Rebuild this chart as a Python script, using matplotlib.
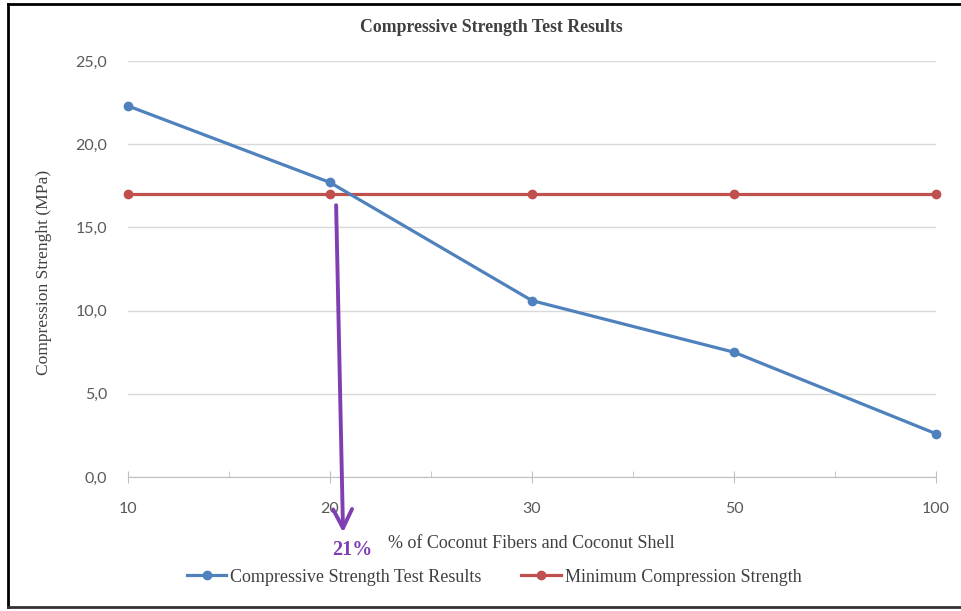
import matplotlib.pyplot as plt
from matplotlib.ticker import FuncFormatter, MultipleLocator
from matplotlib.lines import Line2D

# data
categories = ['10', '20', '30', '50', '100']
test_results = [22.3, 17.7, 10.6, 7.5, 2.6]
minimum_strength = [17.0, 17.0, 17.0, 17.0, 17.0]

blue = '#4f81bd'
red = '#c0504d'
purple = '#7f3fb2'
grey_txt = '#595959'
serif = 'Liberation Serif'

fig = plt.figure(figsize=(9.62, 6.11), dpi=100)
ax = fig.add_axes([128 / 962, 1 - 477 / 611, (936 - 128) / 962, (477 - 61) / 611])

x = list(range(len(categories)))
ax.plot(x, test_results, color=blue, lw=2.3, marker='o', ms=6,
        label='Compressive Strength Test Results', clip_on=False, zorder=4)
ax.plot(x, minimum_strength, color=red, lw=2.3, marker='o', ms=6,
        label='Minimum Compression Strength', clip_on=False, zorder=3)

ax.set_xlim(0, len(categories) - 1)
ax.set_ylim(0, 25)
ax.yaxis.set_major_locator(MultipleLocator(5))
ax.yaxis.set_major_formatter(FuncFormatter(lambda v, p: f'{v:.1f}'.replace('.', ',')))
ax.set_xticks(x)
ax.set_xticklabels(categories)
ax.set_xticks([i + 0.5 for i in x[:-1]], minor=True)

ax.grid(axis='y', color='#d9d9d9', lw=1)
ax.set_axisbelow(True)
for s in ['top', 'right', 'left']:
    ax.spines[s].set_visible(False)
ax.spines['bottom'].set_color('#bfbfbf')
ax.tick_params(axis='y', length=0, pad=15, labelsize=11.5, labelcolor=grey_txt)
ax.tick_params(axis='x', which='major', direction='inout', length=8, color='#bfbfbf',
               pad=14, labelsize=11.5, labelcolor=grey_txt)
ax.tick_params(axis='x', which='minor', direction='in', length=4, color='#bfbfbf')
for lab in ax.get_xticklabels() + ax.get_yticklabels():
    lab.set_family('Lato')

fig.text(491 / 962, 1 - 27 / 611, 'Compressive Strength Test Results', ha='center', va='center',
         family=serif, fontweight='bold', fontsize=12.8, color='#404040')
fig.text(44 / 962, 1 - 272 / 611, 'Compression Strenght (MPa)', rotation=90, ha='center',
         va='center', family=serif, fontsize=12.6, color='#404040')
fig.text(531 / 962, 1 - 543 / 611, '% of Coconut Fibers and Coconut Shell', ha='center',
         va='center', family=serif, fontsize=13, color='#404040')

# arrow marking 21%
ax.annotate('', xy=(1.065, -3.5), xytext=(1.03, 16.5),
            arrowprops=dict(arrowstyle='->', color=purple, lw=2.8, mutation_scale=34),
            annotation_clip=False, zorder=5)
ax.text(1.11, -4.4, '21%', ha='center', va='center', family=serif, fontweight='bold',
        fontsize=14.5, color=purple, clip_on=False)

handles = [Line2D([], [], color=blue, lw=2.3, marker='o', ms=6),
           Line2D([], [], color=red, lw=2.3, marker='o', ms=6)]
leg = fig.legend(handles, ['Compressive Strength Test Results', 'Minimum Compression Strength'],
                 loc='center', bbox_to_anchor=(494 / 962, 1 - 577 / 611), ncol=2, frameon=False,
                 handlelength=2.2, handletextpad=0.2, columnspacing=2.2,
                 prop={'family': serif, 'size': 13})
for t in leg.get_texts():
    t.set_color('#404040')

# outer border (left, top, bottom)
fig.add_artist(Line2D([8 / 962, 8 / 962], [1 - 4 / 611, 1 - 607 / 611], color='black', lw=2,
                      transform=fig.transFigure))
fig.add_artist(Line2D([8 / 962, 1], [1 - 4 / 611, 1 - 4 / 611], color='black', lw=2,
                      transform=fig.transFigure))
fig.add_artist(Line2D([8 / 962, 1], [1 - 607 / 611, 1 - 607 / 611], color='#333333', lw=2,
                      transform=fig.transFigure))

fig.savefig('out.png', dpi=100)
